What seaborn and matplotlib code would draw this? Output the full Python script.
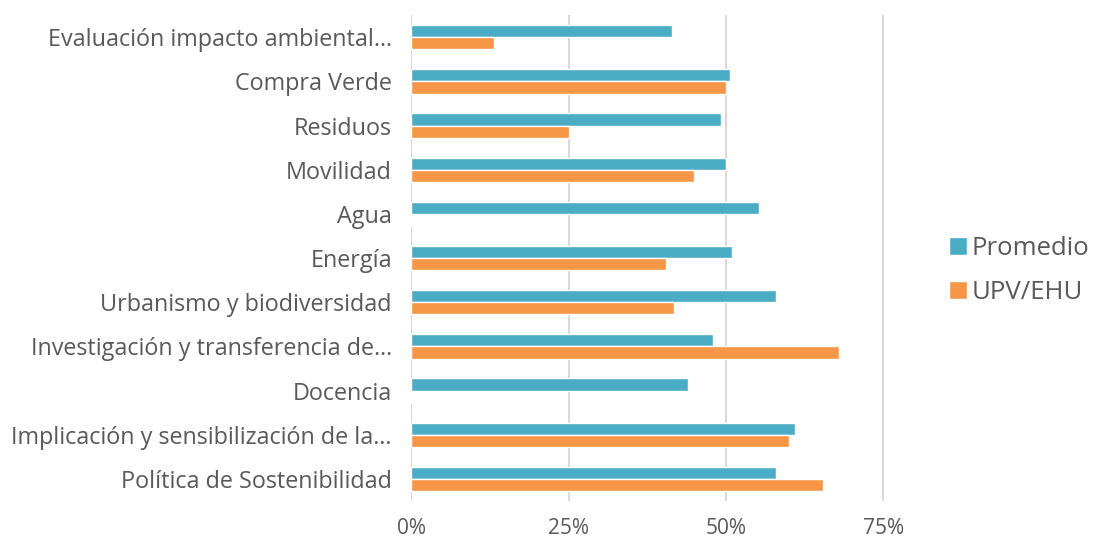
import pandas as pd
import seaborn as sns
import matplotlib.pyplot as plt
from matplotlib.ticker import PercentFormatter

# category labels as shown (truncated like the original)
categories = [
    "Evaluación impacto ambiental…",
    "Compra Verde",
    "Residuos",
    "Movilidad",
    "Agua",
    "Energía",
    "Urbanismo y biodiversidad",
    "Investigación y transferencia de…",
    "Docencia",
    "Implicación y sensibilización de la…",
    "Política de Sostenibilidad",
]
promedio = [0.415, 0.506, 0.493, 0.50, 0.552, 0.51, 0.58, 0.48, 0.44, 0.61, 0.58]
upv_ehu = [0.132, 0.50, 0.25, 0.45, 0.0, 0.405, 0.417, 0.68, 0.0, 0.60, 0.655]
series = ["Promedio", "UPV/EHU"]
colors = ["#4BACC6", "#F79646"]

df = pd.DataFrame({
    "categoria": categories * 2,
    "valor": promedio + upv_ehu,
    "serie": [series[0]] * len(categories) + [series[1]] * len(categories),
})

sns.set_style("white")
plt.rcParams["font.family"] = ["Open Sans", "DejaVu Sans"]

fig = plt.figure(figsize=(10.94, 5.41), dpi=100)
ax = fig.add_axes([0.376, 0.074, 0.46, 0.898])

sns.barplot(data=df, y="categoria", x="valor", hue="serie", orient="h",
            palette=colors, width=0.55, ax=ax, saturation=1, legend=True)

ax.set_xlim(0, 0.8)
ax.set_xticks([0, 0.25, 0.5, 0.75])
ax.xaxis.set_major_formatter(PercentFormatter(1.0, decimals=0))
ax.grid(axis="x", color="#D9D9D9", linewidth=1.5)
ax.set_axisbelow(True)
for s in ax.spines.values():
    s.set_visible(False)
ax.set_xlabel("")
ax.set_ylabel("")
ax.tick_params(axis="both", length=0, labelcolor="#595959")
ax.tick_params(axis="x", pad=12, labelsize=15)
ax.tick_params(axis="y", pad=14, labelsize=16.8)

handles, labels = ax.get_legend_handles_labels()
ax.legend(handles, labels, loc="center left", bbox_to_anchor=(0.846, 0.5),
          bbox_transform=fig.transFigure, frameon=False, fontsize=18.5,
          labelcolor="#595959", handlelength=0.7, handleheight=0.7,
          handletextpad=0.2, labelspacing=0.75)

fig.savefig("out.png", dpi=100)
